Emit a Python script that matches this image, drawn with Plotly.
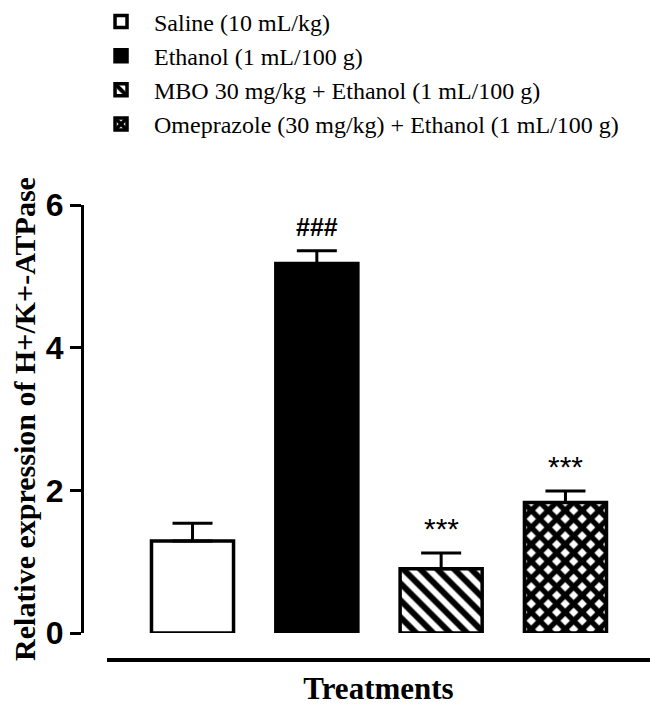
import plotly.graph_objects as go

groups = ["Saline (10 mL/kg)", "Ethanol (1 mL/100 g)",
          "MBO 30 mg/kg + Ethanol (1 mL/100 g)",
          "Omeprazole (30 mg/kg) + Ethanol (1 mL/100 g)"]
values = [1.29, 5.18, 0.90, 1.83]
errors = [0.25, 0.18, 0.22, 0.16]
marks = ["", "###", "***", "***"]
y_ticks = [0, 2, 4, 6]

fills = [
    dict(color="white"),
    dict(color="black"),
    dict(color="white", pattern=dict(shape="\\", fgcolor="black", bgcolor="white",
                                     fgopacity=1, size=12, solidity=0.5)),
    dict(color="white", pattern=dict(shape="x", fgcolor="black", bgcolor="white",
                                     fgopacity=1, size=12, solidity=0.7)),
]

fig = go.Figure()
for i, g in enumerate(groups):
    fig.add_trace(go.Bar(
        x=[i], y=[values[i]], name=g, width=0.66,
        marker=dict(line=dict(color="black", width=3.5), **fills[i]),
        error_y=dict(type="data", array=[errors[i]], arrayminus=[0], symmetric=False,
                     thickness=3, width=20, color="black"),
    ))
    if marks[i]:
        bold = marks[i] == "###"
        fig.add_annotation(x=i, y=values[i] + errors[i], text=marks[i], showarrow=False,
                           yanchor="bottom", yshift=8 if bold else 6,
                           font=dict(family="Liberation Sans", size=25 if bold else 30,
                                     color="black", weight="bold" if bold else "normal"))

# the page body adds an 8 px offset, so the figure is 8 px smaller each way
fig.update_layout(
    width=650, height=701,
    margin=dict(l=74, r=8, t=197, b=49, autoexpand=False),
    plot_bgcolor="white", paper_bgcolor="white",
    showlegend=True,
    legend=dict(x=0.0106, y=1.452, xanchor="left", yanchor="top", itemwidth=56,
                font=dict(family="Liberation Serif", size=24, color="black"),
                traceorder="normal", bgcolor="rgba(0,0,0,0)"),
    xaxis=dict(domain=[0.044, 1], range=[-0.688, 3.68], anchor="free", position=0,
               automargin=False,
               showline=True, linecolor="black", linewidth=4, showticklabels=False,
               ticks="", showgrid=False, zeroline=False,
               title=dict(text="<b>Treatments</b>", standoff=15,
                          font=dict(family="Liberation Serif", size=31, color="black"))),
    yaxis=dict(domain=[0.0593, 1], range=[0, 6], anchor="free", position=0,
               automargin=True,
               tickvals=y_ticks, ticks="outside", ticklen=11, tickwidth=3, tickcolor="black",
               showline=True, linecolor="black", linewidth=3, showgrid=False, zeroline=False,
               tickfont=dict(family="Liberation Sans", size=32, color="black", weight="bold"),
               title=dict(text="<b>Relative expression of H+/K+-ATPase</b>", standoff=2,
                          font=dict(family="Liberation Serif", size=30, color="black"))),
)

fig.write_html("out.html")
